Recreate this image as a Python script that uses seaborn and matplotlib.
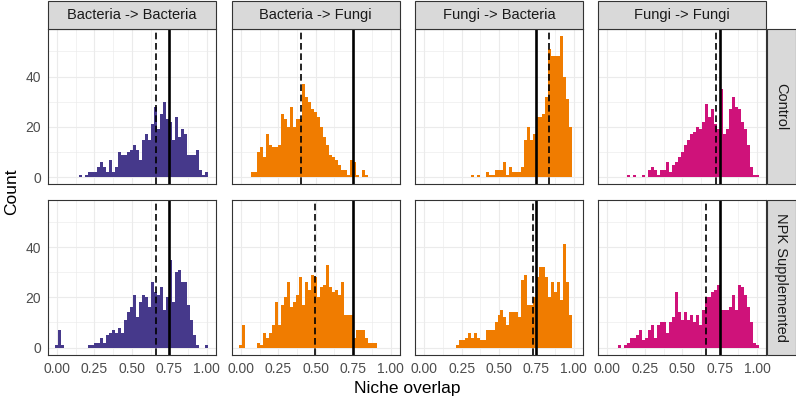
import numpy as np
import pandas as pd
import matplotlib
matplotlib.use("Agg")
import matplotlib.pyplot as plt
from matplotlib.patches import Rectangle
import seaborn as sns

# ---------------- data ----------------
TREATMENTS = ["Control", "NPK Supplemented"]
INTERACTIONS = ["Bacteria -> Bacteria", "Bacteria -> Fungi", "Fungi -> Bacteria", "Fungi -> Fungi"]
PALETTE = {
    "Bacteria -> Bacteria": "#46398B",
    "Bacteria -> Fungi": "#F07C00",
    "Fungi -> Bacteria": "#F07C00",
    "Fungi -> Fungi": "#CF127A",
}

# histogram bins: width 0.02, centred on 0.00, 0.02, ..., 1.00
BIN_CENTERS = np.round(np.arange(51) * 0.02, 2)
BINWIDTH = 0.02
BINRANGE = (-0.01, 1.01)

ctrl_bb = [0, 0, 0, 0, 0, 0, 0, 0, 1, 0, 1, 2, 2, 2, 4, 6, 4, 2,
           7, 2, 4, 10, 9, 9, 10, 11, 13, 11, 7, 15, 17, 15, 21, 28, 19, 25, 30, 23,
           22, 15, 24, 16, 19, 17, 9, 9, 9, 11, 3, 1, 2]
ctrl_bf = [0, 0, 0, 0, 2, 2, 10, 12, 8, 17, 13, 12, 12, 13, 25, 23, 20, 28, 20, 23,
           23, 37, 32, 30, 27, 26, 24, 20, 16, 13, 9, 8, 7, 5, 3, 3, 1, 7, 6, 1,
           0, 3, 1, 0, 0, 0, 0, 0, 0, 0, 0]
ctrl_fb = [0, 0, 0, 0, 0, 0, 0, 0, 0, 0, 0, 0, 0, 0, 0, 0,
           1, 0, 1, 0, 0, 2, 1, 1, 3, 3, 3, 6, 1, 4, 2, 2, 2, 4, 15, 20,
           15, 17, 24, 24, 25, 32, 51, 48, 48, 48, 56, 40, 31, 20, 0]
ctrl_ff = [0, 0, 0, 0, 0, 0, 0, 1, 0, 1, 0, 0, 1, 0, 3, 4, 3,
           1, 3, 3, 6, 2, 5, 6, 8, 10, 13, 15, 17, 18, 20, 19, 22, 29, 24, 27, 21,
           19, 35, 17, 19, 27, 32, 28, 27, 22, 19, 13, 4, 1, 1]
npk_bb = [1, 7, 1, 0, 0, 0, 0, 0, 0, 0, 0, 1, 1, 2, 2, 4, 2, 5, 6, 7,
          6, 8, 6, 11, 14, 16, 21, 12, 18, 21, 20, 16, 26, 22, 21, 24, 15, 20, 35, 18,
          30, 31, 26, 26, 17, 11, 5, 1, 0, 0, 1]
npk_bf = [1, 9, 0, 0, 0, 0, 2, 1, 6, 4, 6, 9, 18, 9, 17, 20, 26, 16, 18, 21,
          28, 17, 26, 23, 29, 28, 20, 24, 25, 33, 24, 22, 23, 21, 26, 13, 13, 13, 4, 7,
          7, 7, 4, 2, 2, 2, 0, 0, 0, 0, 0]
npk_fb = [0, 0, 0, 0, 0, 0, 0, 0, 0, 0, 0, 1, 3, 3, 4, 6, 4, 6, 4, 3,
          3, 7, 7, 7, 10, 13, 15, 12, 9, 14, 14, 14, 12, 27, 29, 17, 17, 20, 28, 32,
          32, 28, 20, 26, 22, 26, 19, 41, 26, 13, 0]
npk_ff = [0, 0, 0, 0, 1, 0, 1, 2, 4, 4, 5, 7, 3, 4, 7, 9, 4, 9, 10, 10,
          6, 10, 12, 22, 14, 11, 14, 11, 13, 10, 13, 9, 15, 20, 20, 22, 23, 25, 15, 15,
          15, 16, 21, 15, 25, 24, 21, 16, 10, 2, 1]

COUNTS = {
    ("Control", "Bacteria -> Bacteria"): ctrl_bb,
    ("Control", "Bacteria -> Fungi"): ctrl_bf,
    ("Control", "Fungi -> Bacteria"): ctrl_fb,
    ("Control", "Fungi -> Fungi"): ctrl_ff,
    ("NPK Supplemented", "Bacteria -> Bacteria"): npk_bb,
    ("NPK Supplemented", "Bacteria -> Fungi"): npk_bf,
    ("NPK Supplemented", "Fungi -> Bacteria"): npk_fb,
    ("NPK Supplemented", "Fungi -> Fungi"): npk_ff,
}
# dashed reference line per panel, solid threshold line
MEAN_OVERLAP = {
    ("Control", "Bacteria -> Bacteria"): 0.66,
    ("Control", "Bacteria -> Fungi"): 0.405,
    ("Control", "Fungi -> Bacteria"): 0.832,
    ("Control", "Fungi -> Fungi"): 0.724,
    ("NPK Supplemented", "Bacteria -> Bacteria"): 0.66,
    ("NPK Supplemented", "Bacteria -> Fungi"): 0.496,
    ("NPK Supplemented", "Fungi -> Bacteria"): 0.73,
    ("NPK Supplemented", "Fungi -> Fungi"): 0.655,
}
THRESHOLD = 0.75

XTICKS = [0.0, 0.25, 0.5, 0.75, 1.0]
XTICKLABELS = ["0.00", "0.25", "0.50", "0.75", "1.00"]
YTICKS = [0, 20, 40]

rows = []
for (trt, inter), cnts in COUNTS.items():
    for c, n in zip(BIN_CENTERS, cnts):
        rows.append({"treatment": trt, "interaction": inter, "overlap": c, "count": n})
df = pd.DataFrame(rows)

# ---------------- layout ----------------
sns.set_style("white")
plt.rcParams["font.family"] = ["Liberation Sans", "DejaVu Sans"]

W, H = 796, 400
fig = plt.figure(figsize=(W / 100, H / 100), dpi=100)
fig.patch.set_facecolor("white")

PANEL_LEFTS = [47.8, 231.7, 415.0, 598.3]
PANEL_W = 168.0
PANEL_TOPS = [29.3, 199.7]
PANEL_H = 155.0
STRIP_TOP = 1.0
STRIP_RIGHT = 795.5

def frac_rect(l, t, w, h):
    return [l / W, 1 - (t + h) / H, w / W, h / H]

BORDER = "#333333"
GRID = "#EBEBEB"

for r, trt in enumerate(TREATMENTS):
    for c, inter in enumerate(INTERACTIONS):
        ax = fig.add_axes(frac_rect(PANEL_LEFTS[c], PANEL_TOPS[r], PANEL_W, PANEL_H))
        sub = df[(df.treatment == trt) & (df.interaction == inter)]
        sns.histplot(data=sub, x="overlap", weights="count",
                     binwidth=BINWIDTH, binrange=BINRANGE,
                     element="step", fill=True, color=PALETTE[inter], alpha=1,
                     linewidth=0, ax=ax, zorder=2)
        ax.axvline(MEAN_OVERLAP[(trt, inter)], color="black", lw=1.2,
                   dashes=(4, 2.2), zorder=3)
        ax.axvline(THRESHOLD, color="black", lw=1.9, zorder=3)

        ax.set_xlim(-0.061, 1.061)
        ax.set_ylim(-2.8, 58.8)
        ax.set_xticks(XTICKS)
        ax.set_xticks([0.125, 0.375, 0.625, 0.875], minor=True)
        ax.set_yticks(YTICKS)
        ax.set_yticks([10, 30, 50], minor=True)
        ax.grid(which="major", color=GRID, lw=0.8, zorder=0)
        ax.grid(which="minor", color=GRID, lw=0.45, zorder=0)
        ax.set_axisbelow(True)
        ax.set_xlabel("")
        ax.set_ylabel("")
        for s in ax.spines.values():
            s.set_color(BORDER)
            s.set_linewidth(0.8)
            s.set_zorder(4)
        ax.tick_params(which="minor", length=0)
        ax.tick_params(which="major", length=3, width=0.8, color=BORDER,
                       labelcolor="#4D4D4D", labelsize=10, pad=2)
        if r == 1:
            ax.set_xticklabels(XTICKLABELS)
        else:
            ax.tick_params(axis="x", which="major", length=0, labelbottom=False)
        if c == 0:
            ax.set_yticklabels([str(v) for v in YTICKS])
        else:
            ax.tick_params(axis="y", which="major", length=0, labelleft=False)

# top strips
for c, inter in enumerate(INTERACTIONS):
    l = PANEL_LEFTS[c]
    t = STRIP_TOP
    h = PANEL_TOPS[0] - STRIP_TOP
    rect = Rectangle((l / W, 1 - (t + h) / H), PANEL_W / W, h / H,
                     transform=fig.transFigure, facecolor="#D9D9D9",
                     edgecolor=BORDER, lw=0.8)
    fig.patches.append(rect)
    fig.text((l + PANEL_W / 2) / W, 1 - (t + h / 2) / H, inter,
             ha="center", va="center", fontsize=10.5, color="#1A1A1A")

# right strips
for r, trt in enumerate(TREATMENTS):
    l = PANEL_LEFTS[-1] + PANEL_W + 0.5
    w = STRIP_RIGHT - l
    t = PANEL_TOPS[r]
    rect = Rectangle((l / W, 1 - (t + PANEL_H) / H), w / W, PANEL_H / H,
                     transform=fig.transFigure, facecolor="#D9D9D9",
                     edgecolor=BORDER, lw=0.8)
    fig.patches.append(rect)
    fig.text((l + w / 2) / W, 1 - (t + PANEL_H / 2) / H, trt,
             ha="center", va="center", rotation=-90, fontsize=10.5, color="#1A1A1A")

# axis titles
fig.text((PANEL_LEFTS[0] + PANEL_LEFTS[-1] + PANEL_W) / 2 / W, 1 - 389 / H,
         "Niche overlap", ha="center", va="center", fontsize=12.5, color="black")
fig.text(12 / W, 1 - (PANEL_TOPS[0] + PANEL_TOPS[1] + PANEL_H) / 2 / H,
         "Count", ha="center", va="center", rotation=90, fontsize=12.5, color="black")

fig.savefig("out.png", dpi=100, facecolor="white")
